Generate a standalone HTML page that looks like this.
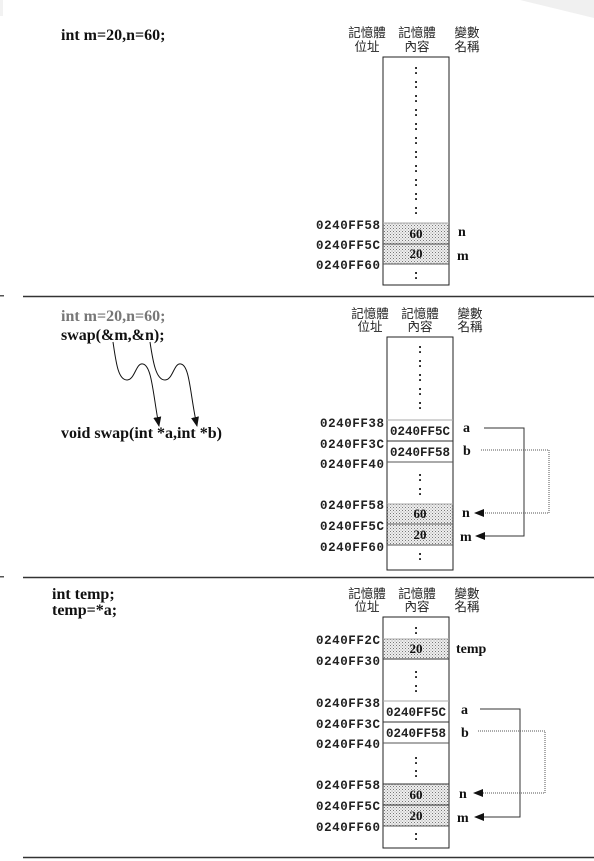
<!DOCTYPE html>
<html><head><meta charset="utf-8"><style>
html,body{margin:0;padding:0;background:#fff;}
svg{display:block;}
.code{font-family:"Liberation Serif",serif;font-weight:bold;font-size:16px;fill:#111;}
.hd{font-family:"Liberation Sans","Noto Sans CJK TC",sans-serif;font-size:12.5px;fill:#222;text-anchor:middle;}
.ad{font-family:"Liberation Mono",monospace;font-weight:bold;font-size:12.5px;fill:#222;text-anchor:end;}
.ct{font-family:"Liberation Mono",monospace;font-weight:bold;font-size:12.5px;fill:#222;text-anchor:middle;}
.v{font-family:"Liberation Serif",serif;font-weight:bold;font-size:13px;fill:#111;text-anchor:middle;}
.nm{font-family:"Liberation Serif",serif;font-weight:bold;font-size:14px;fill:#111;}
.dt{font-family:"Liberation Mono",monospace;font-weight:bold;font-size:13px;fill:#222;text-anchor:middle;}
</style></head><body>
<svg width="594" height="861" viewBox="0 0 594 861" xmlns="http://www.w3.org/2000/svg">
<defs>
<pattern id="dots" width="3" height="3" patternUnits="userSpaceOnUse">
<rect width="3" height="3" fill="#efefef"/>
<rect x="0" y="0" width="1" height="1" fill="#777"/>
<rect x="1.5" y="1.5" width="1" height="1" fill="#999"/>
</pattern>
<marker id="ah" markerWidth="10" markerHeight="8" refX="9" refY="4" orient="auto" markerUnits="userSpaceOnUse">
<path d="M0,0 L10,4 L0,8 Z" fill="#111"/>
</marker>
</defs>
<polygon points="520,0 594,0 594,18" fill="#f0f0f0"/>
<rect x="0" y="0" width="3" height="16" fill="#f2f2f2"/>

<!-- Section 1 -->
<text class="code" x="61" y="40">int m=20,n=60;</text>
<text class="hd" x="367" y="37">記憶體</text><text class="hd" x="367" y="51">位址</text>
<text class="hd" x="417" y="37">記憶體</text><text class="hd" x="417" y="51">內容</text>
<text class="hd" x="467" y="37">變數</text><text class="hd" x="467" y="51">名稱</text>
<rect x="383" y="57" width="66" height="228" fill="#fff" stroke="#222" stroke-width="1"/>
<rect x="383.5" y="223" width="65" height="21" fill="url(#dots)"/>
<rect x="383.5" y="244" width="65" height="20" fill="url(#dots)"/>
<line x1="383" y1="223" x2="449" y2="223" stroke="#aaa"/>
<line x1="383" y1="244" x2="449" y2="244" stroke="#555"/>
<line x1="383" y1="264" x2="449" y2="264" stroke="#555"/>
<g class="dt">
<text x="416" y="74">:</text><text x="416" y="88">:</text><text x="416" y="102">:</text><text x="416" y="116">:</text><text x="416" y="130">:</text><text x="416" y="144">:</text><text x="416" y="158">:</text><text x="416" y="172">:</text><text x="416" y="186">:</text><text x="416" y="200">:</text><text x="416" y="214">:</text><text x="416" y="279">:</text>
</g>
<text class="v" x="416" y="238">60</text><text class="v" x="416" y="258">20</text>
<text class="ad" x="380" y="229" textLength="64">0240FF58</text>
<text class="ad" x="380" y="249" textLength="64">0240FF5C</text>
<text class="ad" x="380" y="269" textLength="64">0240FF60</text>
<text class="nm" x="458" y="236">n</text><text class="nm" x="457" y="260">m</text>

<rect x="0" y="295" width="4" height="1.5" fill="#555"/>
<line x1="23" y1="296.5" x2="594" y2="296.5" stroke="#333" stroke-width="1.5"/>

<!-- Section 2 -->
<text class="code" x="61" y="321" style="fill:#777">int m=20,n=60;</text>
<text class="code" x="61" y="340">swap(&amp;m,&amp;n);</text>
<text class="code" x="61" y="438">void swap(int *a,int *b)</text>
<path d="M113,342 C116,362 118,380 127,380 C135,380 136,362 143,364 C152,366 153,395 159,426" fill="none" stroke="#111" stroke-width="1" marker-end="url(#ah)"/>
<path d="M150,342 C153,362 156,380 165,380 C173,380 174,362 181,364 C190,366 190,395 197,426" fill="none" stroke="#111" stroke-width="1" marker-end="url(#ah)"/>
<text class="hd" x="370" y="318">記憶體</text><text class="hd" x="370" y="331">位址</text>
<text class="hd" x="420" y="318">記憶體</text><text class="hd" x="420" y="331">內容</text>
<text class="hd" x="470" y="318">變數</text><text class="hd" x="470" y="331">名稱</text>
<rect x="387" y="337" width="66" height="233" fill="#fff" stroke="#222"/>
<rect x="387.5" y="504" width="65" height="20" fill="url(#dots)"/>
<rect x="387.5" y="524" width="65" height="21" fill="url(#dots)"/>
<line x1="387" y1="420" x2="453" y2="420" stroke="#aaa"/>
<line x1="387" y1="441" x2="453" y2="441" stroke="#333"/>
<line x1="387" y1="462" x2="453" y2="462" stroke="#555"/>
<line x1="387" y1="504" x2="453" y2="504" stroke="#aaa"/>
<line x1="387" y1="524" x2="453" y2="524" stroke="#555"/>
<line x1="387" y1="545" x2="453" y2="545" stroke="#555"/>
<g class="dt">
<text x="420" y="353">:</text><text x="420" y="367">:</text><text x="420" y="381">:</text><text x="420" y="395">:</text><text x="420" y="409">:</text><text x="420" y="481">:</text><text x="420" y="495">:</text><text x="420" y="560">:</text>
</g>
<text class="ct" x="420" y="435">0240FF5C</text>
<text class="ct" x="420" y="456">0240FF58</text>
<text class="v" x="420" y="518">60</text><text class="v" x="420" y="539">20</text>
<text class="ad" x="384" y="427" textLength="64">0240FF38</text>
<text class="ad" x="384" y="448" textLength="64">0240FF3C</text>
<text class="ad" x="384" y="468" textLength="64">0240FF40</text>
<text class="ad" x="384" y="509" textLength="64">0240FF58</text>
<text class="ad" x="384" y="530" textLength="64">0240FF5C</text>
<text class="ad" x="384" y="551" textLength="64">0240FF60</text>
<text class="nm" x="463" y="432">a</text><text class="nm" x="463" y="455">b</text>
<text class="nm" x="462" y="517">n</text><text class="nm" x="460" y="541">m</text>
<polyline points="484,428 524,428 524,536 476,536" fill="none" stroke="#333" marker-end="url(#ah)"/>
<polyline points="481,450 549,450 549,513 475,513" fill="none" stroke="#555" stroke-dasharray="1,1" marker-end="url(#ah)"/>

<rect x="0" y="576" width="4" height="1.5" fill="#555"/>
<line x1="23" y1="577.5" x2="594" y2="577.5" stroke="#333" stroke-width="1.5"/>

<!-- Section 3 -->
<text class="code" x="52" y="599">int temp;</text>
<text class="code" x="52" y="615">temp=*a;</text>
<text class="hd" x="367" y="598">記憶體</text><text class="hd" x="367" y="611">位址</text>
<text class="hd" x="417" y="598">記憶體</text><text class="hd" x="417" y="611">內容</text>
<text class="hd" x="467" y="598">變數</text><text class="hd" x="467" y="611">名稱</text>
<rect x="383" y="617" width="66" height="231" fill="#fff" stroke="#222"/>
<rect x="383.5" y="639" width="65" height="20" fill="url(#dots)"/>
<rect x="383.5" y="784" width="65" height="21" fill="url(#dots)"/>
<rect x="383.5" y="805" width="65" height="21" fill="url(#dots)"/>
<line x1="383" y1="639" x2="449" y2="639" stroke="#aaa"/>
<line x1="383" y1="659" x2="449" y2="659" stroke="#333"/>
<line x1="383" y1="701" x2="449" y2="701" stroke="#aaa"/>
<line x1="383" y1="722" x2="449" y2="722" stroke="#333"/>
<line x1="383" y1="743" x2="449" y2="743" stroke="#555"/>
<line x1="383" y1="784" x2="449" y2="784" stroke="#333"/>
<line x1="383" y1="805" x2="449" y2="805" stroke="#333"/>
<line x1="383" y1="826" x2="449" y2="826" stroke="#555"/>
<g class="dt">
<text x="416" y="634">:</text><text x="416" y="678">:</text><text x="416" y="692">:</text><text x="416" y="764">:</text><text x="416" y="777">:</text><text x="416" y="840">:</text>
</g>
<text class="v" x="416" y="653">20</text>
<text class="ct" x="416" y="716">0240FF5C</text>
<text class="ct" x="416" y="737">0240FF58</text>
<text class="v" x="416" y="799">60</text><text class="v" x="416" y="820">20</text>
<text class="ad" x="380" y="644" textLength="64">0240FF2C</text>
<text class="ad" x="380" y="665" textLength="64">0240FF30</text>
<text class="ad" x="380" y="707" textLength="64">0240FF38</text>
<text class="ad" x="380" y="728" textLength="64">0240FF3C</text>
<text class="ad" x="380" y="748" textLength="64">0240FF40</text>
<text class="ad" x="380" y="789" textLength="64">0240FF58</text>
<text class="ad" x="380" y="810" textLength="64">0240FF5C</text>
<text class="ad" x="380" y="831" textLength="64">0240FF60</text>
<text class="nm" x="456" y="653">temp</text>
<text class="nm" x="461" y="714">a</text><text class="nm" x="461" y="737">b</text>
<text class="nm" x="459" y="798">n</text><text class="nm" x="457" y="822">m</text>
<polyline points="480,709 520,709 520,817 475,817" fill="none" stroke="#333" marker-end="url(#ah)"/>
<polyline points="478,731 545,731 545,793 474,793" fill="none" stroke="#555" stroke-dasharray="1,1" marker-end="url(#ah)"/>

<line x1="23" y1="857.5" x2="594" y2="857.5" stroke="#333" stroke-width="1.5"/>
</svg>
</body></html>
